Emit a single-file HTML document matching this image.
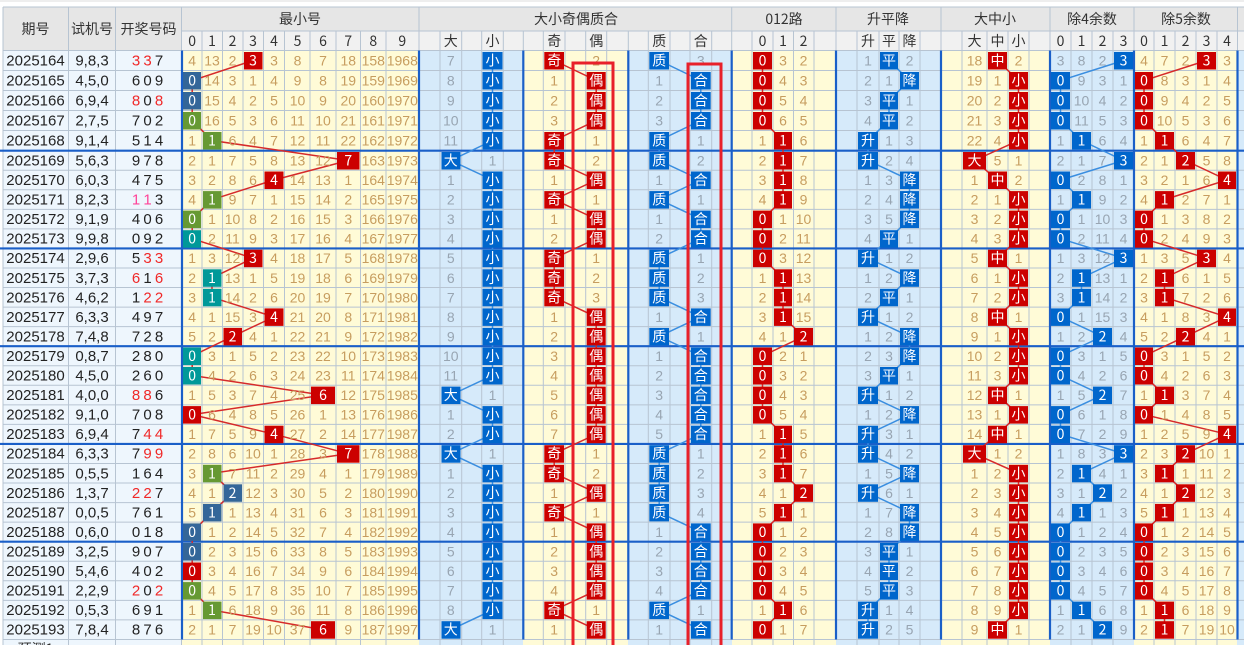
<!DOCTYPE html>
<html><head><meta charset="utf-8"><style>
body{margin:0;background:#fff;width:1244px;height:645px;overflow:hidden}
svg{display:block}
text{font-family:"Liberation Sans","Noto Sans CJK SC",sans-serif;font-size:14px;text-anchor:middle}
.l{fill:#222;font-size:15px}.r{fill:#f02828}.p{fill:#ff4499}
.y{fill:#c79d5f}.g{fill:#98a5b2}.w{fill:#fff;font-family:"Noto Sans CJK SC","Liberation Sans",sans-serif}
.h{fill:#333;font-family:"Noto Sans CJK SC","Liberation Sans",sans-serif;font-size:14px}
.R{fill:#cc0000}.B{fill:#0066cc}.D{fill:#336699}.G{fill:#669933}.T{fill:#009999}
.gl line{stroke:#b7c4d2;stroke-width:1}
.bl line{stroke:#1a5fc8;stroke-width:2.2}
.lr{fill:none;stroke:#d62a2a;stroke-width:1.5}.lb{fill:none;stroke:#3a8ee0;stroke-width:1.5}
</style></head><body>
<svg width="1244" height="645" viewBox="0 0 1244 645" xmlns="http://www.w3.org/2000/svg">
<rect x="0" y="0" width="1244" height="645" fill="#fff"/>
<line x1="0" y1="1" x2="1244" y2="1" stroke="#ddd"/>
<!-- header -->
<rect x="3" y="7" width="1241" height="44" fill="#e6e6e6"/>
<rect x="182" y="31" width="1062" height="20" fill="#f1f1f1"/>
<!-- backgrounds -->
<rect x="3" y="50.5" width="179" height="595" fill="#eef6fd"/>
<rect x="182" y="50.5" width="237" height="595" fill="#fffbd7"/>
<rect x="419" y="50.5" width="104" height="595" fill="#d6eafa"/>
<rect x="523" y="50.5" width="105" height="595" fill="#fffbd7"/>
<rect x="628" y="50.5" width="104" height="595" fill="#d6eafa"/>
<rect x="732" y="50.5" width="104" height="595" fill="#fffbd7"/>
<rect x="836" y="50.5" width="105" height="595" fill="#d6eafa"/>
<rect x="941" y="50.5" width="109" height="595" fill="#fffbd7"/>
<rect x="1050" y="50.5" width="84" height="595" fill="#d6eafa"/>
<rect x="1134" y="50.5" width="103" height="595" fill="#fffbd7"/>
<rect x="1237" y="50.5" width="7" height="595" fill="#d6eafa"/>
<g class="gl">
<line x1="3" y1="7" x2="1244" y2="7"/><line x1="182" y1="31" x2="1244" y2="31"/>
<line x1="3" y1="7" x2="3" y2="645"/><line x1="68.5" y1="7" x2="68.5" y2="645"/><line x1="115.5" y1="7" x2="115.5" y2="645"/><line x1="181.5" y1="7" x2="181.5" y2="645"/>
<line x1="419" y1="7" x2="419" y2="51"/><line x1="731.7" y1="7" x2="731.7" y2="51"/><line x1="836" y1="7" x2="836" y2="51"/><line x1="941" y1="7" x2="941" y2="51"/><line x1="1050" y1="7" x2="1050" y2="51"/><line x1="1134" y1="7" x2="1134" y2="51"/><line x1="1237.5" y1="7" x2="1237.5" y2="51"/>
<line x1="202" y1="31" x2="202" y2="645"/><line x1="222.5" y1="31" x2="222.5" y2="645"/><line x1="243" y1="31" x2="243" y2="645"/><line x1="263.5" y1="31" x2="263.5" y2="645"/><line x1="284.5" y1="31" x2="284.5" y2="645"/><line x1="310" y1="31" x2="310" y2="645"/><line x1="336" y1="31" x2="336" y2="645"/><line x1="360.5" y1="31" x2="360.5" y2="645"/><line x1="386" y1="31" x2="386" y2="645"/>
<line x1="440" y1="31" x2="440" y2="645"/><line x1="461.7" y1="31" x2="461.7" y2="645"/><line x1="481.7" y1="31" x2="481.7" y2="645"/><line x1="503.3" y1="31" x2="503.3" y2="645"/><line x1="523.3" y1="31" x2="523.3" y2="51"/><line x1="543.3" y1="31" x2="543.3" y2="645"/><line x1="565" y1="31" x2="565" y2="645"/><line x1="585.7" y1="31" x2="585.7" y2="645"/><line x1="606.7" y1="31" x2="606.7" y2="645"/><line x1="628.3" y1="31" x2="628.3" y2="51"/><line x1="648.3" y1="31" x2="648.3" y2="645"/><line x1="670" y1="31" x2="670" y2="645"/><line x1="690" y1="31" x2="690" y2="645"/><line x1="711.7" y1="31" x2="711.7" y2="645"/>
<line x1="752" y1="31" x2="752" y2="645"/><line x1="773" y1="31" x2="773" y2="645"/><line x1="793.5" y1="31" x2="793.5" y2="645"/><line x1="814" y1="31" x2="814" y2="645"/>
<line x1="857" y1="31" x2="857" y2="645"/><line x1="879" y1="31" x2="879" y2="645"/><line x1="899" y1="31" x2="899" y2="645"/><line x1="920" y1="31" x2="920" y2="645"/>
<line x1="962" y1="31" x2="962" y2="645"/><line x1="987" y1="31" x2="987" y2="645"/><line x1="1008" y1="31" x2="1008" y2="645"/><line x1="1029" y1="31" x2="1029" y2="645"/>
<line x1="1071" y1="31" x2="1071" y2="645"/><line x1="1092" y1="31" x2="1092" y2="645"/><line x1="1113" y1="31" x2="1113" y2="645"/>
<line x1="1154" y1="31" x2="1154" y2="645"/><line x1="1175" y1="31" x2="1175" y2="645"/><line x1="1196" y1="31" x2="1196" y2="645"/><line x1="1217" y1="31" x2="1217" y2="645"/>
<line x1="3" y1="50.5" x2="1244" y2="50.5"/><line x1="3" y1="70.5" x2="1244" y2="70.5"/><line x1="3" y1="90.5" x2="1244" y2="90.5"/><line x1="3" y1="110.5" x2="1244" y2="110.5"/><line x1="3" y1="130.5" x2="1244" y2="130.5"/>
<line x1="3" y1="170.25" x2="1244" y2="170.25"/><line x1="3" y1="189.8" x2="1244" y2="189.8"/><line x1="3" y1="209.35" x2="1244" y2="209.35"/><line x1="3" y1="228.9" x2="1244" y2="228.9"/>
<line x1="3" y1="268" x2="1244" y2="268"/><line x1="3" y1="287.55" x2="1244" y2="287.55"/><line x1="3" y1="307.1" x2="1244" y2="307.1"/><line x1="3" y1="326.65" x2="1244" y2="326.65"/>
<line x1="3" y1="365.75" x2="1244" y2="365.75"/><line x1="3" y1="385.3" x2="1244" y2="385.3"/><line x1="3" y1="404.85" x2="1244" y2="404.85"/><line x1="3" y1="424.4" x2="1244" y2="424.4"/>
<line x1="3" y1="463.5" x2="1244" y2="463.5"/><line x1="3" y1="483.05" x2="1244" y2="483.05"/><line x1="3" y1="502.6" x2="1244" y2="502.6"/><line x1="3" y1="522.15" x2="1244" y2="522.15"/>
<line x1="3" y1="561.25" x2="1244" y2="561.25"/><line x1="3" y1="580.8" x2="1244" y2="580.8"/><line x1="3" y1="600.35" x2="1244" y2="600.35"/><line x1="3" y1="619.9" x2="1244" y2="619.9"/><line x1="3" y1="639.45" x2="1244" y2="639.45"/>
</g>
<g class="bl">
<line x1="182" y1="50.5" x2="182" y2="639.5"/><line x1="419" y1="50.5" x2="419" y2="639.5"/><line x1="523.3" y1="50.5" x2="523.3" y2="639.5"/><line x1="628.3" y1="50.5" x2="628.3" y2="639.5"/><line x1="731.7" y1="50.5" x2="731.7" y2="639.5"/><line x1="836" y1="50.5" x2="836" y2="639.5"/><line x1="941" y1="50.5" x2="941" y2="639.5"/><line x1="1050" y1="50.5" x2="1050" y2="639.5"/><line x1="1134" y1="50.5" x2="1134" y2="639.5"/><line x1="1237.5" y1="50.5" x2="1237.5" y2="639.5"/>
<line x1="0" y1="150.7" x2="1244" y2="150.7"/><line x1="0" y1="248.45" x2="1244" y2="248.45"/><line x1="0" y1="346.2" x2="1244" y2="346.2"/><line x1="0" y1="443.95" x2="1244" y2="443.95"/><line x1="0" y1="541.7" x2="1244" y2="541.7"/>
</g>
<!-- header text -->
<text class="h" x="35.5" y="34">期号</text><text class="h" x="92" y="34">试机号</text><text class="h" x="148.5" y="34">开奖号码</text>
<text class="h" y="24"><tspan x="300">最小号</tspan><tspan x="576">大小奇偶质合</tspan><tspan x="784">012路</tspan><tspan x="888">升平降</tspan><tspan x="995">大中小</tspan><tspan x="1092">除4余数</tspan><tspan x="1186">除5余数</tspan></text>
<text class="h" y="46"><tspan x="192.2">0</tspan><tspan x="212">1</tspan><tspan x="232.5">2</tspan><tspan x="253">3</tspan><tspan x="274">4</tspan><tspan x="297.5">5</tspan><tspan x="323">6</tspan><tspan x="348.3">7</tspan><tspan x="373.3">8</tspan><tspan x="402.3">9</tspan><tspan x="450.8">大</tspan><tspan x="492.5">小</tspan><tspan x="554.2">奇</tspan><tspan x="596.2">偶</tspan><tspan x="659.2">质</tspan><tspan x="700.8">合</tspan><tspan x="762.5">0</tspan><tspan x="783">1</tspan><tspan x="803.5">2</tspan><tspan x="868">升</tspan><tspan x="889">平</tspan><tspan x="909.5">降</tspan><tspan x="974.5">大</tspan><tspan x="997.5">中</tspan><tspan x="1018.5">小</tspan><tspan x="1060.5">0</tspan><tspan x="1081.5">1</tspan><tspan x="1102.5">2</tspan><tspan x="1123.5">3</tspan><tspan x="1144">0</tspan><tspan x="1164.5">1</tspan><tspan x="1185.5">2</tspan><tspan x="1206.5">3</tspan><tspan x="1227">4</tspan></text>
<!-- polylines -->
<polyline class="lr" points="253,60.5 192.2,80.5 192.2,100.5 192.2,120.5 212,140.5 348.3,160.5 274,180 212,199.6 192.2,219.1 192.2,238.7 253,258.2 212,277.8 212,297.3 274,316.9 232.5,336.4 192.2,356 192.2,375.5 323,395.1 192.2,414.6 274,434.2 348.3,453.7 212,473.3 232.5,492.8 212,512.4 192.2,531.9 192.2,551.5 192.2,571 192.2,590.6 212,610.1 323,629.7"/>
<polyline class="lb" points="492.5,60.5 492.5,80.5 492.5,100.5 492.5,120.5 492.5,140.5 450.8,160.5 492.5,180 492.5,199.6 492.5,219.1 492.5,238.7 492.5,258.2 492.5,277.8 492.5,297.3 492.5,316.9 492.5,336.4 492.5,356 492.5,375.5 450.8,395.1 492.5,414.6 492.5,434.2 450.8,453.7 492.5,473.3 492.5,492.8 492.5,512.4 492.5,531.9 492.5,551.5 492.5,571 492.5,590.6 492.5,610.1 450.8,629.7"/>
<polyline class="lr" points="554.2,60.5 596.2,80.5 596.2,100.5 596.2,120.5 554.2,140.5 554.2,160.5 596.2,180 554.2,199.6 596.2,219.1 596.2,238.7 554.2,258.2 554.2,277.8 554.2,297.3 596.2,316.9 596.2,336.4 596.2,356 596.2,375.5 596.2,395.1 596.2,414.6 596.2,434.2 554.2,453.7 554.2,473.3 596.2,492.8 554.2,512.4 596.2,531.9 596.2,551.5 596.2,571 596.2,590.6 554.2,610.1 596.2,629.7"/>
<polyline class="lb" points="659.2,60.5 700.8,80.5 700.8,100.5 700.8,120.5 659.2,140.5 659.2,160.5 700.8,180 659.2,199.6 700.8,219.1 700.8,238.7 659.2,258.2 659.2,277.8 659.2,297.3 700.8,316.9 659.2,336.4 700.8,356 700.8,375.5 700.8,395.1 700.8,414.6 700.8,434.2 659.2,453.7 659.2,473.3 659.2,492.8 659.2,512.4 700.8,531.9 700.8,551.5 700.8,571 700.8,590.6 659.2,610.1 700.8,629.7"/>
<polyline class="lr" points="762.5,60.5 762.5,80.5 762.5,100.5 762.5,120.5 783,140.5 783,160.5 783,180 783,199.6 762.5,219.1 762.5,238.7 762.5,258.2 783,277.8 783,297.3 783,316.9 803.5,336.4 762.5,356 762.5,375.5 762.5,395.1 762.5,414.6 783,434.2 783,453.7 783,473.3 803.5,492.8 783,512.4 762.5,531.9 762.5,551.5 762.5,571 762.5,590.6 783,610.1 762.5,629.7"/>
<polyline class="lb" points="889,60.5 909.5,80.5 889,100.5 889,120.5 868,140.5 868,160.5 909.5,180 909.5,199.6 909.5,219.1 889,238.7 868,258.2 909.5,277.8 889,297.3 868,316.9 909.5,336.4 909.5,356 889,375.5 868,395.1 909.5,414.6 868,434.2 868,453.7 909.5,473.3 868,492.8 909.5,512.4 909.5,531.9 889,551.5 889,571 889,590.6 868,610.1 868,629.7"/>
<polyline class="lr" points="997.5,60.5 1018.5,80.5 1018.5,100.5 1018.5,120.5 1018.5,140.5 974.5,160.5 997.5,180 1018.5,199.6 1018.5,219.1 1018.5,238.7 997.5,258.2 1018.5,277.8 1018.5,297.3 997.5,316.9 1018.5,336.4 1018.5,356 1018.5,375.5 997.5,395.1 1018.5,414.6 997.5,434.2 974.5,453.7 1018.5,473.3 1018.5,492.8 1018.5,512.4 1018.5,531.9 1018.5,551.5 1018.5,571 1018.5,590.6 1018.5,610.1 997.5,629.7"/>
<polyline class="lb" points="1123.5,60.5 1060.5,80.5 1060.5,100.5 1060.5,120.5 1081.5,140.5 1123.5,160.5 1060.5,180 1081.5,199.6 1060.5,219.1 1060.5,238.7 1123.5,258.2 1081.5,277.8 1081.5,297.3 1060.5,316.9 1102.5,336.4 1060.5,356 1060.5,375.5 1102.5,395.1 1060.5,414.6 1060.5,434.2 1123.5,453.7 1081.5,473.3 1102.5,492.8 1081.5,512.4 1060.5,531.9 1060.5,551.5 1060.5,571 1060.5,590.6 1081.5,610.1 1102.5,629.7"/>
<polyline class="lr" points="1206.5,60.5 1144,80.5 1144,100.5 1144,120.5 1164.5,140.5 1185.5,160.5 1227,180 1164.5,199.6 1144,219.1 1144,238.7 1206.5,258.2 1164.5,277.8 1164.5,297.3 1227,316.9 1185.5,336.4 1144,356 1144,375.5 1164.5,395.1 1144,414.6 1227,434.2 1185.5,453.7 1164.5,473.3 1185.5,492.8 1164.5,512.4 1144,531.9 1144,551.5 1144,571 1144,590.6 1164.5,610.1 1164.5,629.7"/>

<!-- rows -->
<g transform="translate(0,60.5)">
<text class="l" y="5"><tspan x="35.5">2025164</tspan><tspan x="92">9,8,3</tspan><tspan x="136" class="r">3</tspan><tspan x="147.5" class="r">3</tspan><tspan x="159">7</tspan></text>
<text class="y" y="5"><tspan x="192.2">4</tspan><tspan x="212">13</tspan><tspan x="232.5">2</tspan><tspan x="274">3</tspan><tspan x="297.5">8</tspan><tspan x="323">7</tspan><tspan x="348.3">18</tspan><tspan x="373.3">158</tspan><tspan x="402.3">1968</tspan><tspan x="596.2">2</tspan><tspan x="783">3</tspan><tspan x="803.5">2</tspan><tspan x="974.5">18</tspan><tspan x="1018.5">2</tspan><tspan x="1144">4</tspan><tspan x="1164.5">7</tspan><tspan x="1185.5">2</tspan><tspan x="1227">3</tspan></text>
<text class="g" y="5"><tspan x="450.8">7</tspan><tspan x="700.8">3</tspan><tspan x="868">1</tspan><tspan x="909.5">2</tspan><tspan x="1060.5">3</tspan><tspan x="1081.5">8</tspan><tspan x="1102.5">2</tspan></text>
<rect class="R" x="244" y="-8.5" width="18.5" height="17.5"/><rect class="B" x="482.5" y="-8.5" width="20" height="17.5"/><rect class="R" x="544.3" y="-8.5" width="19.7" height="17.5"/><rect class="B" x="649.3" y="-8.5" width="19.7" height="17.5"/><rect class="R" x="753" y="-8.5" width="19" height="17.5"/><rect class="B" x="880" y="-8.5" width="18" height="17.5"/><rect class="R" x="988" y="-8.5" width="19" height="17.5"/><rect class="B" x="1114" y="-8.5" width="19" height="17.5"/><rect class="R" x="1197" y="-8.5" width="19" height="17.5"/>
<text class="w" y="5"><tspan x="253">3</tspan><tspan x="492.5">小</tspan><tspan x="554.2">奇</tspan><tspan x="659.2">质</tspan><tspan x="762.5">0</tspan><tspan x="889">平</tspan><tspan x="997.5">中</tspan><tspan x="1123.5">3</tspan><tspan x="1206.5">3</tspan></text>
</g>
<g transform="translate(0,80.5)">
<text class="l" y="5"><tspan x="35.5">2025165</tspan><tspan x="92">4,5,0</tspan><tspan x="136">6</tspan><tspan x="147.5">0</tspan><tspan x="159">9</tspan></text>
<text class="y" y="5"><tspan x="212">14</tspan><tspan x="232.5">3</tspan><tspan x="253">1</tspan><tspan x="274">4</tspan><tspan x="297.5">9</tspan><tspan x="323">8</tspan><tspan x="348.3">19</tspan><tspan x="373.3">159</tspan><tspan x="402.3">1969</tspan><tspan x="554.2">1</tspan><tspan x="783">4</tspan><tspan x="803.5">3</tspan><tspan x="974.5">19</tspan><tspan x="997.5">1</tspan><tspan x="1164.5">8</tspan><tspan x="1185.5">3</tspan><tspan x="1206.5">1</tspan><tspan x="1227">4</tspan></text>
<text class="g" y="5"><tspan x="450.8">8</tspan><tspan x="659.2">1</tspan><tspan x="868">2</tspan><tspan x="889">1</tspan><tspan x="1081.5">9</tspan><tspan x="1102.5">3</tspan><tspan x="1123.5">1</tspan></text>
<rect class="D" x="183" y="-8.5" width="18" height="17.5"/><rect class="B" x="482.5" y="-8.5" width="20" height="17.5"/><rect class="R" x="586.7" y="-8.5" width="19" height="17.5"/><rect class="B" x="691" y="-8.5" width="19.7" height="17.5"/><rect class="R" x="753" y="-8.5" width="19" height="17.5"/><rect class="B" x="900" y="-8.5" width="19" height="17.5"/><rect class="R" x="1009" y="-8.5" width="19" height="17.5"/><rect class="B" x="1051" y="-8.5" width="19" height="17.5"/><rect class="R" x="1135" y="-8.5" width="18" height="17.5"/>
<text class="w" y="5"><tspan x="192.2">0</tspan><tspan x="492.5">小</tspan><tspan x="596.2">偶</tspan><tspan x="700.8">合</tspan><tspan x="762.5">0</tspan><tspan x="909.5">降</tspan><tspan x="1018.5">小</tspan><tspan x="1060.5">0</tspan><tspan x="1144">0</tspan></text>
</g>
<g transform="translate(0,100.5)">
<text class="l" y="5"><tspan x="35.5">2025166</tspan><tspan x="92">6,9,4</tspan><tspan x="136" class="r">8</tspan><tspan x="147.5">0</tspan><tspan x="159" class="r">8</tspan></text>
<text class="y" y="5"><tspan x="212">15</tspan><tspan x="232.5">4</tspan><tspan x="253">2</tspan><tspan x="274">5</tspan><tspan x="297.5">10</tspan><tspan x="323">9</tspan><tspan x="348.3">20</tspan><tspan x="373.3">160</tspan><tspan x="402.3">1970</tspan><tspan x="554.2">2</tspan><tspan x="783">5</tspan><tspan x="803.5">4</tspan><tspan x="974.5">20</tspan><tspan x="997.5">2</tspan><tspan x="1164.5">9</tspan><tspan x="1185.5">4</tspan><tspan x="1206.5">2</tspan><tspan x="1227">5</tspan></text>
<text class="g" y="5"><tspan x="450.8">9</tspan><tspan x="659.2">2</tspan><tspan x="868">3</tspan><tspan x="909.5">1</tspan><tspan x="1081.5">10</tspan><tspan x="1102.5">4</tspan><tspan x="1123.5">2</tspan></text>
<rect class="D" x="183" y="-8.5" width="18" height="17.5"/><rect class="B" x="482.5" y="-8.5" width="20" height="17.5"/><rect class="R" x="586.7" y="-8.5" width="19" height="17.5"/><rect class="B" x="691" y="-8.5" width="19.7" height="17.5"/><rect class="R" x="753" y="-8.5" width="19" height="17.5"/><rect class="B" x="880" y="-8.5" width="18" height="17.5"/><rect class="R" x="1009" y="-8.5" width="19" height="17.5"/><rect class="B" x="1051" y="-8.5" width="19" height="17.5"/><rect class="R" x="1135" y="-8.5" width="18" height="17.5"/>
<text class="w" y="5"><tspan x="192.2">0</tspan><tspan x="492.5">小</tspan><tspan x="596.2">偶</tspan><tspan x="700.8">合</tspan><tspan x="762.5">0</tspan><tspan x="889">平</tspan><tspan x="1018.5">小</tspan><tspan x="1060.5">0</tspan><tspan x="1144">0</tspan></text>
</g>
<g transform="translate(0,120.5)">
<text class="l" y="5"><tspan x="35.5">2025167</tspan><tspan x="92">2,7,5</tspan><tspan x="136">7</tspan><tspan x="147.5">0</tspan><tspan x="159">2</tspan></text>
<text class="y" y="5"><tspan x="212">16</tspan><tspan x="232.5">5</tspan><tspan x="253">3</tspan><tspan x="274">6</tspan><tspan x="297.5">11</tspan><tspan x="323">10</tspan><tspan x="348.3">21</tspan><tspan x="373.3">161</tspan><tspan x="402.3">1971</tspan><tspan x="554.2">3</tspan><tspan x="783">6</tspan><tspan x="803.5">5</tspan><tspan x="974.5">21</tspan><tspan x="997.5">3</tspan><tspan x="1164.5">10</tspan><tspan x="1185.5">5</tspan><tspan x="1206.5">3</tspan><tspan x="1227">6</tspan></text>
<text class="g" y="5"><tspan x="450.8">10</tspan><tspan x="659.2">3</tspan><tspan x="868">4</tspan><tspan x="909.5">2</tspan><tspan x="1081.5">11</tspan><tspan x="1102.5">5</tspan><tspan x="1123.5">3</tspan></text>
<rect class="G" x="183" y="-8.5" width="18" height="17.5"/><rect class="B" x="482.5" y="-8.5" width="20" height="17.5"/><rect class="R" x="586.7" y="-8.5" width="19" height="17.5"/><rect class="B" x="691" y="-8.5" width="19.7" height="17.5"/><rect class="R" x="753" y="-8.5" width="19" height="17.5"/><rect class="B" x="880" y="-8.5" width="18" height="17.5"/><rect class="R" x="1009" y="-8.5" width="19" height="17.5"/><rect class="B" x="1051" y="-8.5" width="19" height="17.5"/><rect class="R" x="1135" y="-8.5" width="18" height="17.5"/>
<text class="w" y="5"><tspan x="192.2">0</tspan><tspan x="492.5">小</tspan><tspan x="596.2">偶</tspan><tspan x="700.8">合</tspan><tspan x="762.5">0</tspan><tspan x="889">平</tspan><tspan x="1018.5">小</tspan><tspan x="1060.5">0</tspan><tspan x="1144">0</tspan></text>
</g>
<g transform="translate(0,140.5)">
<text class="l" y="5"><tspan x="35.5">2025168</tspan><tspan x="92">9,1,4</tspan><tspan x="136">5</tspan><tspan x="147.5">1</tspan><tspan x="159">4</tspan></text>
<text class="y" y="5"><tspan x="192.2">1</tspan><tspan x="232.5">6</tspan><tspan x="253">4</tspan><tspan x="274">7</tspan><tspan x="297.5">12</tspan><tspan x="323">11</tspan><tspan x="348.3">22</tspan><tspan x="373.3">162</tspan><tspan x="402.3">1972</tspan><tspan x="596.2">1</tspan><tspan x="762.5">1</tspan><tspan x="803.5">6</tspan><tspan x="974.5">22</tspan><tspan x="997.5">4</tspan><tspan x="1144">1</tspan><tspan x="1185.5">6</tspan><tspan x="1206.5">4</tspan><tspan x="1227">7</tspan></text>
<text class="g" y="5"><tspan x="450.8">11</tspan><tspan x="700.8">1</tspan><tspan x="889">1</tspan><tspan x="909.5">3</tspan><tspan x="1060.5">1</tspan><tspan x="1102.5">6</tspan><tspan x="1123.5">4</tspan></text>
<rect class="G" x="203" y="-8.5" width="18.5" height="17.5"/><rect class="B" x="482.5" y="-8.5" width="20" height="17.5"/><rect class="R" x="544.3" y="-8.5" width="19.7" height="17.5"/><rect class="B" x="649.3" y="-8.5" width="19.7" height="17.5"/><rect class="R" x="774" y="-8.5" width="18" height="17.5"/><rect class="B" x="858" y="-8.5" width="20" height="17.5"/><rect class="R" x="1009" y="-8.5" width="19" height="17.5"/><rect class="B" x="1072" y="-8.5" width="19" height="17.5"/><rect class="R" x="1155" y="-8.5" width="19" height="17.5"/>
<text class="w" y="5"><tspan x="212">1</tspan><tspan x="492.5">小</tspan><tspan x="554.2">奇</tspan><tspan x="659.2">质</tspan><tspan x="783">1</tspan><tspan x="868">升</tspan><tspan x="1018.5">小</tspan><tspan x="1081.5">1</tspan><tspan x="1164.5">1</tspan></text>
</g>
<g transform="translate(0,160.5)">
<text class="l" y="5"><tspan x="35.5">2025169</tspan><tspan x="92">5,6,3</tspan><tspan x="136">9</tspan><tspan x="147.5">7</tspan><tspan x="159">8</tspan></text>
<text class="y" y="5"><tspan x="192.2">2</tspan><tspan x="212">1</tspan><tspan x="232.5">7</tspan><tspan x="253">5</tspan><tspan x="274">8</tspan><tspan x="297.5">13</tspan><tspan x="323">12</tspan><tspan x="373.3">163</tspan><tspan x="402.3">1973</tspan><tspan x="596.2">2</tspan><tspan x="762.5">2</tspan><tspan x="803.5">7</tspan><tspan x="997.5">5</tspan><tspan x="1018.5">1</tspan><tspan x="1144">2</tspan><tspan x="1164.5">1</tspan><tspan x="1206.5">5</tspan><tspan x="1227">8</tspan></text>
<text class="g" y="5"><tspan x="492.5">1</tspan><tspan x="700.8">2</tspan><tspan x="889">2</tspan><tspan x="909.5">4</tspan><tspan x="1060.5">2</tspan><tspan x="1081.5">1</tspan><tspan x="1102.5">7</tspan></text>
<rect class="R" x="337" y="-8.5" width="22.5" height="17.5"/><rect class="B" x="441.5" y="-8.5" width="19" height="17.5"/><rect class="R" x="544.3" y="-8.5" width="19.7" height="17.5"/><rect class="B" x="649.3" y="-8.5" width="19.7" height="17.5"/><rect class="R" x="774" y="-8.5" width="18" height="17.5"/><rect class="B" x="858" y="-8.5" width="20" height="17.5"/><rect class="R" x="963" y="-8.5" width="23" height="17.5"/><rect class="B" x="1114" y="-8.5" width="19" height="17.5"/><rect class="R" x="1176" y="-8.5" width="19" height="17.5"/>
<text class="w" y="5"><tspan x="348.3">7</tspan><tspan x="450.8">大</tspan><tspan x="554.2">奇</tspan><tspan x="659.2">质</tspan><tspan x="783">1</tspan><tspan x="868">升</tspan><tspan x="974.5">大</tspan><tspan x="1123.5">3</tspan><tspan x="1185.5">2</tspan></text>
</g>
<g transform="translate(0,180)">
<text class="l" y="5"><tspan x="35.5">2025170</tspan><tspan x="92">6,0,3</tspan><tspan x="136">4</tspan><tspan x="147.5">7</tspan><tspan x="159">5</tspan></text>
<text class="y" y="5"><tspan x="192.2">3</tspan><tspan x="212">2</tspan><tspan x="232.5">8</tspan><tspan x="253">6</tspan><tspan x="297.5">14</tspan><tspan x="323">13</tspan><tspan x="348.3">1</tspan><tspan x="373.3">164</tspan><tspan x="402.3">1974</tspan><tspan x="554.2">1</tspan><tspan x="762.5">3</tspan><tspan x="803.5">8</tspan><tspan x="974.5">1</tspan><tspan x="1018.5">2</tspan><tspan x="1144">3</tspan><tspan x="1164.5">2</tspan><tspan x="1185.5">1</tspan><tspan x="1206.5">6</tspan></text>
<text class="g" y="5"><tspan x="450.8">1</tspan><tspan x="659.2">1</tspan><tspan x="868">1</tspan><tspan x="889">3</tspan><tspan x="1081.5">2</tspan><tspan x="1102.5">8</tspan><tspan x="1123.5">1</tspan></text>
<rect class="R" x="264.5" y="-8.5" width="19" height="17.5"/><rect class="B" x="482.5" y="-8.5" width="20" height="17.5"/><rect class="R" x="586.7" y="-8.5" width="19" height="17.5"/><rect class="B" x="691" y="-8.5" width="19.7" height="17.5"/><rect class="R" x="774" y="-8.5" width="18" height="17.5"/><rect class="B" x="900" y="-8.5" width="19" height="17.5"/><rect class="R" x="988" y="-8.5" width="19" height="17.5"/><rect class="B" x="1051" y="-8.5" width="19" height="17.5"/><rect class="R" x="1218" y="-8.5" width="18" height="17.5"/>
<text class="w" y="5"><tspan x="274">4</tspan><tspan x="492.5">小</tspan><tspan x="596.2">偶</tspan><tspan x="700.8">合</tspan><tspan x="783">1</tspan><tspan x="909.5">降</tspan><tspan x="997.5">中</tspan><tspan x="1060.5">0</tspan><tspan x="1227">4</tspan></text>
</g>
<g transform="translate(0,199.6)">
<text class="l" y="5"><tspan x="35.5">2025171</tspan><tspan x="92">8,2,3</tspan><tspan x="136" class="p">1</tspan><tspan x="147.5" class="p">1</tspan><tspan x="159">3</tspan></text>
<text class="y" y="5"><tspan x="192.2">4</tspan><tspan x="232.5">9</tspan><tspan x="253">7</tspan><tspan x="274">1</tspan><tspan x="297.5">15</tspan><tspan x="323">14</tspan><tspan x="348.3">2</tspan><tspan x="373.3">165</tspan><tspan x="402.3">1975</tspan><tspan x="596.2">1</tspan><tspan x="762.5">4</tspan><tspan x="803.5">9</tspan><tspan x="974.5">2</tspan><tspan x="997.5">1</tspan><tspan x="1144">4</tspan><tspan x="1185.5">2</tspan><tspan x="1206.5">7</tspan><tspan x="1227">1</tspan></text>
<text class="g" y="5"><tspan x="450.8">2</tspan><tspan x="700.8">1</tspan><tspan x="868">2</tspan><tspan x="889">4</tspan><tspan x="1060.5">1</tspan><tspan x="1102.5">9</tspan><tspan x="1123.5">2</tspan></text>
<rect class="G" x="203" y="-8.5" width="18.5" height="17.5"/><rect class="B" x="482.5" y="-8.5" width="20" height="17.5"/><rect class="R" x="544.3" y="-8.5" width="19.7" height="17.5"/><rect class="B" x="649.3" y="-8.5" width="19.7" height="17.5"/><rect class="R" x="774" y="-8.5" width="18" height="17.5"/><rect class="B" x="900" y="-8.5" width="19" height="17.5"/><rect class="R" x="1009" y="-8.5" width="19" height="17.5"/><rect class="B" x="1072" y="-8.5" width="19" height="17.5"/><rect class="R" x="1155" y="-8.5" width="19" height="17.5"/>
<text class="w" y="5"><tspan x="212">1</tspan><tspan x="492.5">小</tspan><tspan x="554.2">奇</tspan><tspan x="659.2">质</tspan><tspan x="783">1</tspan><tspan x="909.5">降</tspan><tspan x="1018.5">小</tspan><tspan x="1081.5">1</tspan><tspan x="1164.5">1</tspan></text>
</g>
<g transform="translate(0,219.1)">
<text class="l" y="5"><tspan x="35.5">2025172</tspan><tspan x="92">9,1,9</tspan><tspan x="136">4</tspan><tspan x="147.5">0</tspan><tspan x="159">6</tspan></text>
<text class="y" y="5"><tspan x="212">1</tspan><tspan x="232.5">10</tspan><tspan x="253">8</tspan><tspan x="274">2</tspan><tspan x="297.5">16</tspan><tspan x="323">15</tspan><tspan x="348.3">3</tspan><tspan x="373.3">166</tspan><tspan x="402.3">1976</tspan><tspan x="554.2">1</tspan><tspan x="783">1</tspan><tspan x="803.5">10</tspan><tspan x="974.5">3</tspan><tspan x="997.5">2</tspan><tspan x="1164.5">1</tspan><tspan x="1185.5">3</tspan><tspan x="1206.5">8</tspan><tspan x="1227">2</tspan></text>
<text class="g" y="5"><tspan x="450.8">3</tspan><tspan x="659.2">1</tspan><tspan x="868">3</tspan><tspan x="889">5</tspan><tspan x="1081.5">1</tspan><tspan x="1102.5">10</tspan><tspan x="1123.5">3</tspan></text>
<rect class="G" x="183" y="-8.5" width="18" height="17.5"/><rect class="B" x="482.5" y="-8.5" width="20" height="17.5"/><rect class="R" x="586.7" y="-8.5" width="19" height="17.5"/><rect class="B" x="691" y="-8.5" width="19.7" height="17.5"/><rect class="R" x="753" y="-8.5" width="19" height="17.5"/><rect class="B" x="900" y="-8.5" width="19" height="17.5"/><rect class="R" x="1009" y="-8.5" width="19" height="17.5"/><rect class="B" x="1051" y="-8.5" width="19" height="17.5"/><rect class="R" x="1135" y="-8.5" width="18" height="17.5"/>
<text class="w" y="5"><tspan x="192.2">0</tspan><tspan x="492.5">小</tspan><tspan x="596.2">偶</tspan><tspan x="700.8">合</tspan><tspan x="762.5">0</tspan><tspan x="909.5">降</tspan><tspan x="1018.5">小</tspan><tspan x="1060.5">0</tspan><tspan x="1144">0</tspan></text>
</g>
<g transform="translate(0,238.7)">
<text class="l" y="5"><tspan x="35.5">2025173</tspan><tspan x="92">9,9,8</tspan><tspan x="136">0</tspan><tspan x="147.5">9</tspan><tspan x="159">2</tspan></text>
<text class="y" y="5"><tspan x="212">2</tspan><tspan x="232.5">11</tspan><tspan x="253">9</tspan><tspan x="274">3</tspan><tspan x="297.5">17</tspan><tspan x="323">16</tspan><tspan x="348.3">4</tspan><tspan x="373.3">167</tspan><tspan x="402.3">1977</tspan><tspan x="554.2">2</tspan><tspan x="783">2</tspan><tspan x="803.5">11</tspan><tspan x="974.5">4</tspan><tspan x="997.5">3</tspan><tspan x="1164.5">2</tspan><tspan x="1185.5">4</tspan><tspan x="1206.5">9</tspan><tspan x="1227">3</tspan></text>
<text class="g" y="5"><tspan x="450.8">4</tspan><tspan x="659.2">2</tspan><tspan x="868">4</tspan><tspan x="909.5">1</tspan><tspan x="1081.5">2</tspan><tspan x="1102.5">11</tspan><tspan x="1123.5">4</tspan></text>
<rect class="T" x="183" y="-8.5" width="18" height="17.5"/><rect class="B" x="482.5" y="-8.5" width="20" height="17.5"/><rect class="R" x="586.7" y="-8.5" width="19" height="17.5"/><rect class="B" x="691" y="-8.5" width="19.7" height="17.5"/><rect class="R" x="753" y="-8.5" width="19" height="17.5"/><rect class="B" x="880" y="-8.5" width="18" height="17.5"/><rect class="R" x="1009" y="-8.5" width="19" height="17.5"/><rect class="B" x="1051" y="-8.5" width="19" height="17.5"/><rect class="R" x="1135" y="-8.5" width="18" height="17.5"/>
<text class="w" y="5"><tspan x="192.2">0</tspan><tspan x="492.5">小</tspan><tspan x="596.2">偶</tspan><tspan x="700.8">合</tspan><tspan x="762.5">0</tspan><tspan x="889">平</tspan><tspan x="1018.5">小</tspan><tspan x="1060.5">0</tspan><tspan x="1144">0</tspan></text>
</g>
<g transform="translate(0,258.2)">
<text class="l" y="5"><tspan x="35.5">2025174</tspan><tspan x="92">2,9,6</tspan><tspan x="136">5</tspan><tspan x="147.5" class="r">3</tspan><tspan x="159" class="r">3</tspan></text>
<text class="y" y="5"><tspan x="192.2">1</tspan><tspan x="212">3</tspan><tspan x="232.5">12</tspan><tspan x="274">4</tspan><tspan x="297.5">18</tspan><tspan x="323">17</tspan><tspan x="348.3">5</tspan><tspan x="373.3">168</tspan><tspan x="402.3">1978</tspan><tspan x="596.2">1</tspan><tspan x="783">3</tspan><tspan x="803.5">12</tspan><tspan x="974.5">5</tspan><tspan x="1018.5">1</tspan><tspan x="1144">1</tspan><tspan x="1164.5">3</tspan><tspan x="1185.5">5</tspan><tspan x="1227">4</tspan></text>
<text class="g" y="5"><tspan x="450.8">5</tspan><tspan x="700.8">1</tspan><tspan x="889">1</tspan><tspan x="909.5">2</tspan><tspan x="1060.5">1</tspan><tspan x="1081.5">3</tspan><tspan x="1102.5">12</tspan></text>
<rect class="R" x="244" y="-8.5" width="18.5" height="17.5"/><rect class="B" x="482.5" y="-8.5" width="20" height="17.5"/><rect class="R" x="544.3" y="-8.5" width="19.7" height="17.5"/><rect class="B" x="649.3" y="-8.5" width="19.7" height="17.5"/><rect class="R" x="753" y="-8.5" width="19" height="17.5"/><rect class="B" x="858" y="-8.5" width="20" height="17.5"/><rect class="R" x="988" y="-8.5" width="19" height="17.5"/><rect class="B" x="1114" y="-8.5" width="19" height="17.5"/><rect class="R" x="1197" y="-8.5" width="19" height="17.5"/>
<text class="w" y="5"><tspan x="253">3</tspan><tspan x="492.5">小</tspan><tspan x="554.2">奇</tspan><tspan x="659.2">质</tspan><tspan x="762.5">0</tspan><tspan x="868">升</tspan><tspan x="997.5">中</tspan><tspan x="1123.5">3</tspan><tspan x="1206.5">3</tspan></text>
</g>
<g transform="translate(0,277.8)">
<text class="l" y="5"><tspan x="35.5">2025175</tspan><tspan x="92">3,7,3</tspan><tspan x="136" class="r">6</tspan><tspan x="147.5">1</tspan><tspan x="159" class="r">6</tspan></text>
<text class="y" y="5"><tspan x="192.2">2</tspan><tspan x="232.5">13</tspan><tspan x="253">1</tspan><tspan x="274">5</tspan><tspan x="297.5">19</tspan><tspan x="323">18</tspan><tspan x="348.3">6</tspan><tspan x="373.3">169</tspan><tspan x="402.3">1979</tspan><tspan x="596.2">2</tspan><tspan x="762.5">1</tspan><tspan x="803.5">13</tspan><tspan x="974.5">6</tspan><tspan x="997.5">1</tspan><tspan x="1144">2</tspan><tspan x="1185.5">6</tspan><tspan x="1206.5">1</tspan><tspan x="1227">5</tspan></text>
<text class="g" y="5"><tspan x="450.8">6</tspan><tspan x="700.8">2</tspan><tspan x="868">1</tspan><tspan x="889">2</tspan><tspan x="1060.5">2</tspan><tspan x="1102.5">13</tspan><tspan x="1123.5">1</tspan></text>
<rect class="T" x="203" y="-8.5" width="18.5" height="17.5"/><rect class="B" x="482.5" y="-8.5" width="20" height="17.5"/><rect class="R" x="544.3" y="-8.5" width="19.7" height="17.5"/><rect class="B" x="649.3" y="-8.5" width="19.7" height="17.5"/><rect class="R" x="774" y="-8.5" width="18" height="17.5"/><rect class="B" x="900" y="-8.5" width="19" height="17.5"/><rect class="R" x="1009" y="-8.5" width="19" height="17.5"/><rect class="B" x="1072" y="-8.5" width="19" height="17.5"/><rect class="R" x="1155" y="-8.5" width="19" height="17.5"/>
<text class="w" y="5"><tspan x="212">1</tspan><tspan x="492.5">小</tspan><tspan x="554.2">奇</tspan><tspan x="659.2">质</tspan><tspan x="783">1</tspan><tspan x="909.5">降</tspan><tspan x="1018.5">小</tspan><tspan x="1081.5">1</tspan><tspan x="1164.5">1</tspan></text>
</g>
<g transform="translate(0,297.3)">
<text class="l" y="5"><tspan x="35.5">2025176</tspan><tspan x="92">4,6,2</tspan><tspan x="136">1</tspan><tspan x="147.5" class="r">2</tspan><tspan x="159" class="r">2</tspan></text>
<text class="y" y="5"><tspan x="192.2">3</tspan><tspan x="232.5">14</tspan><tspan x="253">2</tspan><tspan x="274">6</tspan><tspan x="297.5">20</tspan><tspan x="323">19</tspan><tspan x="348.3">7</tspan><tspan x="373.3">170</tspan><tspan x="402.3">1980</tspan><tspan x="596.2">3</tspan><tspan x="762.5">2</tspan><tspan x="803.5">14</tspan><tspan x="974.5">7</tspan><tspan x="997.5">2</tspan><tspan x="1144">3</tspan><tspan x="1185.5">7</tspan><tspan x="1206.5">2</tspan><tspan x="1227">6</tspan></text>
<text class="g" y="5"><tspan x="450.8">7</tspan><tspan x="700.8">3</tspan><tspan x="868">2</tspan><tspan x="909.5">1</tspan><tspan x="1060.5">3</tspan><tspan x="1102.5">14</tspan><tspan x="1123.5">2</tspan></text>
<rect class="T" x="203" y="-8.5" width="18.5" height="17.5"/><rect class="B" x="482.5" y="-8.5" width="20" height="17.5"/><rect class="R" x="544.3" y="-8.5" width="19.7" height="17.5"/><rect class="B" x="649.3" y="-8.5" width="19.7" height="17.5"/><rect class="R" x="774" y="-8.5" width="18" height="17.5"/><rect class="B" x="880" y="-8.5" width="18" height="17.5"/><rect class="R" x="1009" y="-8.5" width="19" height="17.5"/><rect class="B" x="1072" y="-8.5" width="19" height="17.5"/><rect class="R" x="1155" y="-8.5" width="19" height="17.5"/>
<text class="w" y="5"><tspan x="212">1</tspan><tspan x="492.5">小</tspan><tspan x="554.2">奇</tspan><tspan x="659.2">质</tspan><tspan x="783">1</tspan><tspan x="889">平</tspan><tspan x="1018.5">小</tspan><tspan x="1081.5">1</tspan><tspan x="1164.5">1</tspan></text>
</g>
<g transform="translate(0,316.9)">
<text class="l" y="5"><tspan x="35.5">2025177</tspan><tspan x="92">6,3,3</tspan><tspan x="136">4</tspan><tspan x="147.5">9</tspan><tspan x="159">7</tspan></text>
<text class="y" y="5"><tspan x="192.2">4</tspan><tspan x="212">1</tspan><tspan x="232.5">15</tspan><tspan x="253">3</tspan><tspan x="297.5">21</tspan><tspan x="323">20</tspan><tspan x="348.3">8</tspan><tspan x="373.3">171</tspan><tspan x="402.3">1981</tspan><tspan x="554.2">1</tspan><tspan x="762.5">3</tspan><tspan x="803.5">15</tspan><tspan x="974.5">8</tspan><tspan x="1018.5">1</tspan><tspan x="1144">4</tspan><tspan x="1164.5">1</tspan><tspan x="1185.5">8</tspan><tspan x="1206.5">3</tspan></text>
<text class="g" y="5"><tspan x="450.8">8</tspan><tspan x="659.2">1</tspan><tspan x="889">1</tspan><tspan x="909.5">2</tspan><tspan x="1081.5">1</tspan><tspan x="1102.5">15</tspan><tspan x="1123.5">3</tspan></text>
<rect class="R" x="264.5" y="-8.5" width="19" height="17.5"/><rect class="B" x="482.5" y="-8.5" width="20" height="17.5"/><rect class="R" x="586.7" y="-8.5" width="19" height="17.5"/><rect class="B" x="691" y="-8.5" width="19.7" height="17.5"/><rect class="R" x="774" y="-8.5" width="18" height="17.5"/><rect class="B" x="858" y="-8.5" width="20" height="17.5"/><rect class="R" x="988" y="-8.5" width="19" height="17.5"/><rect class="B" x="1051" y="-8.5" width="19" height="17.5"/><rect class="R" x="1218" y="-8.5" width="18" height="17.5"/>
<text class="w" y="5"><tspan x="274">4</tspan><tspan x="492.5">小</tspan><tspan x="596.2">偶</tspan><tspan x="700.8">合</tspan><tspan x="783">1</tspan><tspan x="868">升</tspan><tspan x="997.5">中</tspan><tspan x="1060.5">0</tspan><tspan x="1227">4</tspan></text>
</g>
<g transform="translate(0,336.4)">
<text class="l" y="5"><tspan x="35.5">2025178</tspan><tspan x="92">7,4,8</tspan><tspan x="136">7</tspan><tspan x="147.5">2</tspan><tspan x="159">8</tspan></text>
<text class="y" y="5"><tspan x="192.2">5</tspan><tspan x="212">2</tspan><tspan x="253">4</tspan><tspan x="274">1</tspan><tspan x="297.5">22</tspan><tspan x="323">21</tspan><tspan x="348.3">9</tspan><tspan x="373.3">172</tspan><tspan x="402.3">1982</tspan><tspan x="554.2">2</tspan><tspan x="762.5">4</tspan><tspan x="783">1</tspan><tspan x="974.5">9</tspan><tspan x="997.5">1</tspan><tspan x="1144">5</tspan><tspan x="1164.5">2</tspan><tspan x="1206.5">4</tspan><tspan x="1227">1</tspan></text>
<text class="g" y="5"><tspan x="450.8">9</tspan><tspan x="700.8">1</tspan><tspan x="868">1</tspan><tspan x="889">2</tspan><tspan x="1060.5">1</tspan><tspan x="1081.5">2</tspan><tspan x="1123.5">4</tspan></text>
<rect class="R" x="223.5" y="-8.5" width="18.5" height="17.5"/><rect class="B" x="482.5" y="-8.5" width="20" height="17.5"/><rect class="R" x="586.7" y="-8.5" width="19" height="17.5"/><rect class="B" x="649.3" y="-8.5" width="19.7" height="17.5"/><rect class="R" x="794" y="-8.5" width="19" height="17.5"/><rect class="B" x="900" y="-8.5" width="19" height="17.5"/><rect class="R" x="1009" y="-8.5" width="19" height="17.5"/><rect class="B" x="1093" y="-8.5" width="19" height="17.5"/><rect class="R" x="1176" y="-8.5" width="19" height="17.5"/>
<text class="w" y="5"><tspan x="232.5">2</tspan><tspan x="492.5">小</tspan><tspan x="596.2">偶</tspan><tspan x="659.2">质</tspan><tspan x="803.5">2</tspan><tspan x="909.5">降</tspan><tspan x="1018.5">小</tspan><tspan x="1102.5">2</tspan><tspan x="1185.5">2</tspan></text>
</g>
<g transform="translate(0,356)">
<text class="l" y="5"><tspan x="35.5">2025179</tspan><tspan x="92">0,8,7</tspan><tspan x="136">2</tspan><tspan x="147.5">8</tspan><tspan x="159">0</tspan></text>
<text class="y" y="5"><tspan x="212">3</tspan><tspan x="232.5">1</tspan><tspan x="253">5</tspan><tspan x="274">2</tspan><tspan x="297.5">23</tspan><tspan x="323">22</tspan><tspan x="348.3">10</tspan><tspan x="373.3">173</tspan><tspan x="402.3">1983</tspan><tspan x="554.2">3</tspan><tspan x="783">2</tspan><tspan x="803.5">1</tspan><tspan x="974.5">10</tspan><tspan x="997.5">2</tspan><tspan x="1164.5">3</tspan><tspan x="1185.5">1</tspan><tspan x="1206.5">5</tspan><tspan x="1227">2</tspan></text>
<text class="g" y="5"><tspan x="450.8">10</tspan><tspan x="659.2">1</tspan><tspan x="868">2</tspan><tspan x="889">3</tspan><tspan x="1081.5">3</tspan><tspan x="1102.5">1</tspan><tspan x="1123.5">5</tspan></text>
<rect class="T" x="183" y="-8.5" width="18" height="17.5"/><rect class="B" x="482.5" y="-8.5" width="20" height="17.5"/><rect class="R" x="586.7" y="-8.5" width="19" height="17.5"/><rect class="B" x="691" y="-8.5" width="19.7" height="17.5"/><rect class="R" x="753" y="-8.5" width="19" height="17.5"/><rect class="B" x="900" y="-8.5" width="19" height="17.5"/><rect class="R" x="1009" y="-8.5" width="19" height="17.5"/><rect class="B" x="1051" y="-8.5" width="19" height="17.5"/><rect class="R" x="1135" y="-8.5" width="18" height="17.5"/>
<text class="w" y="5"><tspan x="192.2">0</tspan><tspan x="492.5">小</tspan><tspan x="596.2">偶</tspan><tspan x="700.8">合</tspan><tspan x="762.5">0</tspan><tspan x="909.5">降</tspan><tspan x="1018.5">小</tspan><tspan x="1060.5">0</tspan><tspan x="1144">0</tspan></text>
</g>
<g transform="translate(0,375.5)">
<text class="l" y="5"><tspan x="35.5">2025180</tspan><tspan x="92">4,5,0</tspan><tspan x="136">2</tspan><tspan x="147.5">6</tspan><tspan x="159">0</tspan></text>
<text class="y" y="5"><tspan x="212">4</tspan><tspan x="232.5">2</tspan><tspan x="253">6</tspan><tspan x="274">3</tspan><tspan x="297.5">24</tspan><tspan x="323">23</tspan><tspan x="348.3">11</tspan><tspan x="373.3">174</tspan><tspan x="402.3">1984</tspan><tspan x="554.2">4</tspan><tspan x="783">3</tspan><tspan x="803.5">2</tspan><tspan x="974.5">11</tspan><tspan x="997.5">3</tspan><tspan x="1164.5">4</tspan><tspan x="1185.5">2</tspan><tspan x="1206.5">6</tspan><tspan x="1227">3</tspan></text>
<text class="g" y="5"><tspan x="450.8">11</tspan><tspan x="659.2">2</tspan><tspan x="868">3</tspan><tspan x="909.5">1</tspan><tspan x="1081.5">4</tspan><tspan x="1102.5">2</tspan><tspan x="1123.5">6</tspan></text>
<rect class="T" x="183" y="-8.5" width="18" height="17.5"/><rect class="B" x="482.5" y="-8.5" width="20" height="17.5"/><rect class="R" x="586.7" y="-8.5" width="19" height="17.5"/><rect class="B" x="691" y="-8.5" width="19.7" height="17.5"/><rect class="R" x="753" y="-8.5" width="19" height="17.5"/><rect class="B" x="880" y="-8.5" width="18" height="17.5"/><rect class="R" x="1009" y="-8.5" width="19" height="17.5"/><rect class="B" x="1051" y="-8.5" width="19" height="17.5"/><rect class="R" x="1135" y="-8.5" width="18" height="17.5"/>
<text class="w" y="5"><tspan x="192.2">0</tspan><tspan x="492.5">小</tspan><tspan x="596.2">偶</tspan><tspan x="700.8">合</tspan><tspan x="762.5">0</tspan><tspan x="889">平</tspan><tspan x="1018.5">小</tspan><tspan x="1060.5">0</tspan><tspan x="1144">0</tspan></text>
</g>
<g transform="translate(0,395.1)">
<text class="l" y="5"><tspan x="35.5">2025181</tspan><tspan x="92">4,0,0</tspan><tspan x="136" class="r">8</tspan><tspan x="147.5" class="r">8</tspan><tspan x="159">6</tspan></text>
<text class="y" y="5"><tspan x="192.2">1</tspan><tspan x="212">5</tspan><tspan x="232.5">3</tspan><tspan x="253">7</tspan><tspan x="274">4</tspan><tspan x="297.5">25</tspan><tspan x="348.3">12</tspan><tspan x="373.3">175</tspan><tspan x="402.3">1985</tspan><tspan x="554.2">5</tspan><tspan x="783">4</tspan><tspan x="803.5">3</tspan><tspan x="974.5">12</tspan><tspan x="1018.5">1</tspan><tspan x="1144">1</tspan><tspan x="1185.5">3</tspan><tspan x="1206.5">7</tspan><tspan x="1227">4</tspan></text>
<text class="g" y="5"><tspan x="492.5">1</tspan><tspan x="659.2">3</tspan><tspan x="889">1</tspan><tspan x="909.5">2</tspan><tspan x="1060.5">1</tspan><tspan x="1081.5">5</tspan><tspan x="1123.5">7</tspan></text>
<rect class="R" x="311" y="-8.5" width="24" height="17.5"/><rect class="B" x="441.5" y="-8.5" width="19" height="17.5"/><rect class="R" x="586.7" y="-8.5" width="19" height="17.5"/><rect class="B" x="691" y="-8.5" width="19.7" height="17.5"/><rect class="R" x="753" y="-8.5" width="19" height="17.5"/><rect class="B" x="858" y="-8.5" width="20" height="17.5"/><rect class="R" x="988" y="-8.5" width="19" height="17.5"/><rect class="B" x="1093" y="-8.5" width="19" height="17.5"/><rect class="R" x="1155" y="-8.5" width="19" height="17.5"/>
<text class="w" y="5"><tspan x="323">6</tspan><tspan x="450.8">大</tspan><tspan x="596.2">偶</tspan><tspan x="700.8">合</tspan><tspan x="762.5">0</tspan><tspan x="868">升</tspan><tspan x="997.5">中</tspan><tspan x="1102.5">2</tspan><tspan x="1164.5">1</tspan></text>
</g>
<g transform="translate(0,414.6)">
<text class="l" y="5"><tspan x="35.5">2025182</tspan><tspan x="92">9,1,0</tspan><tspan x="136">7</tspan><tspan x="147.5">0</tspan><tspan x="159">8</tspan></text>
<text class="y" y="5"><tspan x="212">6</tspan><tspan x="232.5">4</tspan><tspan x="253">8</tspan><tspan x="274">5</tspan><tspan x="297.5">26</tspan><tspan x="323">1</tspan><tspan x="348.3">13</tspan><tspan x="373.3">176</tspan><tspan x="402.3">1986</tspan><tspan x="554.2">6</tspan><tspan x="783">5</tspan><tspan x="803.5">4</tspan><tspan x="974.5">13</tspan><tspan x="997.5">1</tspan><tspan x="1164.5">1</tspan><tspan x="1185.5">4</tspan><tspan x="1206.5">8</tspan><tspan x="1227">5</tspan></text>
<text class="g" y="5"><tspan x="450.8">1</tspan><tspan x="659.2">4</tspan><tspan x="868">1</tspan><tspan x="889">2</tspan><tspan x="1081.5">6</tspan><tspan x="1102.5">1</tspan><tspan x="1123.5">8</tspan></text>
<rect class="R" x="183" y="-8.5" width="18" height="17.5"/><rect class="B" x="482.5" y="-8.5" width="20" height="17.5"/><rect class="R" x="586.7" y="-8.5" width="19" height="17.5"/><rect class="B" x="691" y="-8.5" width="19.7" height="17.5"/><rect class="R" x="753" y="-8.5" width="19" height="17.5"/><rect class="B" x="900" y="-8.5" width="19" height="17.5"/><rect class="R" x="1009" y="-8.5" width="19" height="17.5"/><rect class="B" x="1051" y="-8.5" width="19" height="17.5"/><rect class="R" x="1135" y="-8.5" width="18" height="17.5"/>
<text class="w" y="5"><tspan x="192.2">0</tspan><tspan x="492.5">小</tspan><tspan x="596.2">偶</tspan><tspan x="700.8">合</tspan><tspan x="762.5">0</tspan><tspan x="909.5">降</tspan><tspan x="1018.5">小</tspan><tspan x="1060.5">0</tspan><tspan x="1144">0</tspan></text>
</g>
<g transform="translate(0,434.2)">
<text class="l" y="5"><tspan x="35.5">2025183</tspan><tspan x="92">6,9,4</tspan><tspan x="136">7</tspan><tspan x="147.5" class="r">4</tspan><tspan x="159" class="r">4</tspan></text>
<text class="y" y="5"><tspan x="192.2">1</tspan><tspan x="212">7</tspan><tspan x="232.5">5</tspan><tspan x="253">9</tspan><tspan x="297.5">27</tspan><tspan x="323">2</tspan><tspan x="348.3">14</tspan><tspan x="373.3">177</tspan><tspan x="402.3">1987</tspan><tspan x="554.2">7</tspan><tspan x="762.5">1</tspan><tspan x="803.5">5</tspan><tspan x="974.5">14</tspan><tspan x="1018.5">1</tspan><tspan x="1144">1</tspan><tspan x="1164.5">2</tspan><tspan x="1185.5">5</tspan><tspan x="1206.5">9</tspan></text>
<text class="g" y="5"><tspan x="450.8">2</tspan><tspan x="659.2">5</tspan><tspan x="889">3</tspan><tspan x="909.5">1</tspan><tspan x="1081.5">7</tspan><tspan x="1102.5">2</tspan><tspan x="1123.5">9</tspan></text>
<rect class="R" x="264.5" y="-8.5" width="19" height="17.5"/><rect class="B" x="482.5" y="-8.5" width="20" height="17.5"/><rect class="R" x="586.7" y="-8.5" width="19" height="17.5"/><rect class="B" x="691" y="-8.5" width="19.7" height="17.5"/><rect class="R" x="774" y="-8.5" width="18" height="17.5"/><rect class="B" x="858" y="-8.5" width="20" height="17.5"/><rect class="R" x="988" y="-8.5" width="19" height="17.5"/><rect class="B" x="1051" y="-8.5" width="19" height="17.5"/><rect class="R" x="1218" y="-8.5" width="18" height="17.5"/>
<text class="w" y="5"><tspan x="274">4</tspan><tspan x="492.5">小</tspan><tspan x="596.2">偶</tspan><tspan x="700.8">合</tspan><tspan x="783">1</tspan><tspan x="868">升</tspan><tspan x="997.5">中</tspan><tspan x="1060.5">0</tspan><tspan x="1227">4</tspan></text>
</g>
<g transform="translate(0,453.7)">
<text class="l" y="5"><tspan x="35.5">2025184</tspan><tspan x="92">6,3,3</tspan><tspan x="136">7</tspan><tspan x="147.5" class="r">9</tspan><tspan x="159" class="r">9</tspan></text>
<text class="y" y="5"><tspan x="192.2">2</tspan><tspan x="212">8</tspan><tspan x="232.5">6</tspan><tspan x="253">10</tspan><tspan x="274">1</tspan><tspan x="297.5">28</tspan><tspan x="323">3</tspan><tspan x="373.3">178</tspan><tspan x="402.3">1988</tspan><tspan x="596.2">1</tspan><tspan x="762.5">2</tspan><tspan x="803.5">6</tspan><tspan x="997.5">1</tspan><tspan x="1018.5">2</tspan><tspan x="1144">2</tspan><tspan x="1164.5">3</tspan><tspan x="1206.5">10</tspan><tspan x="1227">1</tspan></text>
<text class="g" y="5"><tspan x="492.5">1</tspan><tspan x="700.8">1</tspan><tspan x="889">4</tspan><tspan x="909.5">2</tspan><tspan x="1060.5">1</tspan><tspan x="1081.5">8</tspan><tspan x="1102.5">3</tspan></text>
<rect class="R" x="337" y="-8.5" width="22.5" height="17.5"/><rect class="B" x="441.5" y="-8.5" width="19" height="17.5"/><rect class="R" x="544.3" y="-8.5" width="19.7" height="17.5"/><rect class="B" x="649.3" y="-8.5" width="19.7" height="17.5"/><rect class="R" x="774" y="-8.5" width="18" height="17.5"/><rect class="B" x="858" y="-8.5" width="20" height="17.5"/><rect class="R" x="963" y="-8.5" width="23" height="17.5"/><rect class="B" x="1114" y="-8.5" width="19" height="17.5"/><rect class="R" x="1176" y="-8.5" width="19" height="17.5"/>
<text class="w" y="5"><tspan x="348.3">7</tspan><tspan x="450.8">大</tspan><tspan x="554.2">奇</tspan><tspan x="659.2">质</tspan><tspan x="783">1</tspan><tspan x="868">升</tspan><tspan x="974.5">大</tspan><tspan x="1123.5">3</tspan><tspan x="1185.5">2</tspan></text>
</g>
<g transform="translate(0,473.3)">
<text class="l" y="5"><tspan x="35.5">2025185</tspan><tspan x="92">0,5,5</tspan><tspan x="136">1</tspan><tspan x="147.5">6</tspan><tspan x="159">4</tspan></text>
<text class="y" y="5"><tspan x="192.2">3</tspan><tspan x="232.5">7</tspan><tspan x="253">11</tspan><tspan x="274">2</tspan><tspan x="297.5">29</tspan><tspan x="323">4</tspan><tspan x="348.3">1</tspan><tspan x="373.3">179</tspan><tspan x="402.3">1989</tspan><tspan x="596.2">2</tspan><tspan x="762.5">3</tspan><tspan x="803.5">7</tspan><tspan x="974.5">1</tspan><tspan x="997.5">2</tspan><tspan x="1144">3</tspan><tspan x="1185.5">1</tspan><tspan x="1206.5">11</tspan><tspan x="1227">2</tspan></text>
<text class="g" y="5"><tspan x="450.8">1</tspan><tspan x="700.8">2</tspan><tspan x="868">1</tspan><tspan x="889">5</tspan><tspan x="1060.5">2</tspan><tspan x="1102.5">4</tspan><tspan x="1123.5">1</tspan></text>
<rect class="G" x="203" y="-8.5" width="18.5" height="17.5"/><rect class="B" x="482.5" y="-8.5" width="20" height="17.5"/><rect class="R" x="544.3" y="-8.5" width="19.7" height="17.5"/><rect class="B" x="649.3" y="-8.5" width="19.7" height="17.5"/><rect class="R" x="774" y="-8.5" width="18" height="17.5"/><rect class="B" x="900" y="-8.5" width="19" height="17.5"/><rect class="R" x="1009" y="-8.5" width="19" height="17.5"/><rect class="B" x="1072" y="-8.5" width="19" height="17.5"/><rect class="R" x="1155" y="-8.5" width="19" height="17.5"/>
<text class="w" y="5"><tspan x="212">1</tspan><tspan x="492.5">小</tspan><tspan x="554.2">奇</tspan><tspan x="659.2">质</tspan><tspan x="783">1</tspan><tspan x="909.5">降</tspan><tspan x="1018.5">小</tspan><tspan x="1081.5">1</tspan><tspan x="1164.5">1</tspan></text>
</g>
<g transform="translate(0,492.8)">
<text class="l" y="5"><tspan x="35.5">2025186</tspan><tspan x="92">1,3,7</tspan><tspan x="136" class="r">2</tspan><tspan x="147.5" class="r">2</tspan><tspan x="159">7</tspan></text>
<text class="y" y="5"><tspan x="192.2">4</tspan><tspan x="212">1</tspan><tspan x="253">12</tspan><tspan x="274">3</tspan><tspan x="297.5">30</tspan><tspan x="323">5</tspan><tspan x="348.3">2</tspan><tspan x="373.3">180</tspan><tspan x="402.3">1990</tspan><tspan x="554.2">1</tspan><tspan x="762.5">4</tspan><tspan x="783">1</tspan><tspan x="974.5">2</tspan><tspan x="997.5">3</tspan><tspan x="1144">4</tspan><tspan x="1164.5">1</tspan><tspan x="1206.5">12</tspan><tspan x="1227">3</tspan></text>
<text class="g" y="5"><tspan x="450.8">2</tspan><tspan x="700.8">3</tspan><tspan x="889">6</tspan><tspan x="909.5">1</tspan><tspan x="1060.5">3</tspan><tspan x="1081.5">1</tspan><tspan x="1123.5">2</tspan></text>
<rect class="D" x="223.5" y="-8.5" width="18.5" height="17.5"/><rect class="B" x="482.5" y="-8.5" width="20" height="17.5"/><rect class="R" x="586.7" y="-8.5" width="19" height="17.5"/><rect class="B" x="649.3" y="-8.5" width="19.7" height="17.5"/><rect class="R" x="794" y="-8.5" width="19" height="17.5"/><rect class="B" x="858" y="-8.5" width="20" height="17.5"/><rect class="R" x="1009" y="-8.5" width="19" height="17.5"/><rect class="B" x="1093" y="-8.5" width="19" height="17.5"/><rect class="R" x="1176" y="-8.5" width="19" height="17.5"/>
<text class="w" y="5"><tspan x="232.5">2</tspan><tspan x="492.5">小</tspan><tspan x="596.2">偶</tspan><tspan x="659.2">质</tspan><tspan x="803.5">2</tspan><tspan x="868">升</tspan><tspan x="1018.5">小</tspan><tspan x="1102.5">2</tspan><tspan x="1185.5">2</tspan></text>
</g>
<g transform="translate(0,512.4)">
<text class="l" y="5"><tspan x="35.5">2025187</tspan><tspan x="92">0,0,5</tspan><tspan x="136">7</tspan><tspan x="147.5">6</tspan><tspan x="159">1</tspan></text>
<text class="y" y="5"><tspan x="192.2">5</tspan><tspan x="232.5">1</tspan><tspan x="253">13</tspan><tspan x="274">4</tspan><tspan x="297.5">31</tspan><tspan x="323">6</tspan><tspan x="348.3">3</tspan><tspan x="373.3">181</tspan><tspan x="402.3">1991</tspan><tspan x="596.2">1</tspan><tspan x="762.5">5</tspan><tspan x="803.5">1</tspan><tspan x="974.5">3</tspan><tspan x="997.5">4</tspan><tspan x="1144">5</tspan><tspan x="1185.5">1</tspan><tspan x="1206.5">13</tspan><tspan x="1227">4</tspan></text>
<text class="g" y="5"><tspan x="450.8">3</tspan><tspan x="700.8">4</tspan><tspan x="868">1</tspan><tspan x="889">7</tspan><tspan x="1060.5">4</tspan><tspan x="1102.5">1</tspan><tspan x="1123.5">3</tspan></text>
<rect class="D" x="203" y="-8.5" width="18.5" height="17.5"/><rect class="B" x="482.5" y="-8.5" width="20" height="17.5"/><rect class="R" x="544.3" y="-8.5" width="19.7" height="17.5"/><rect class="B" x="649.3" y="-8.5" width="19.7" height="17.5"/><rect class="R" x="774" y="-8.5" width="18" height="17.5"/><rect class="B" x="900" y="-8.5" width="19" height="17.5"/><rect class="R" x="1009" y="-8.5" width="19" height="17.5"/><rect class="B" x="1072" y="-8.5" width="19" height="17.5"/><rect class="R" x="1155" y="-8.5" width="19" height="17.5"/>
<text class="w" y="5"><tspan x="212">1</tspan><tspan x="492.5">小</tspan><tspan x="554.2">奇</tspan><tspan x="659.2">质</tspan><tspan x="783">1</tspan><tspan x="909.5">降</tspan><tspan x="1018.5">小</tspan><tspan x="1081.5">1</tspan><tspan x="1164.5">1</tspan></text>
</g>
<g transform="translate(0,531.9)">
<text class="l" y="5"><tspan x="35.5">2025188</tspan><tspan x="92">0,6,0</tspan><tspan x="136">0</tspan><tspan x="147.5">1</tspan><tspan x="159">8</tspan></text>
<text class="y" y="5"><tspan x="212">1</tspan><tspan x="232.5">2</tspan><tspan x="253">14</tspan><tspan x="274">5</tspan><tspan x="297.5">32</tspan><tspan x="323">7</tspan><tspan x="348.3">4</tspan><tspan x="373.3">182</tspan><tspan x="402.3">1992</tspan><tspan x="554.2">1</tspan><tspan x="783">1</tspan><tspan x="803.5">2</tspan><tspan x="974.5">4</tspan><tspan x="997.5">5</tspan><tspan x="1164.5">1</tspan><tspan x="1185.5">2</tspan><tspan x="1206.5">14</tspan><tspan x="1227">5</tspan></text>
<text class="g" y="5"><tspan x="450.8">4</tspan><tspan x="659.2">1</tspan><tspan x="868">2</tspan><tspan x="889">8</tspan><tspan x="1081.5">1</tspan><tspan x="1102.5">2</tspan><tspan x="1123.5">4</tspan></text>
<rect class="D" x="183" y="-8.5" width="18" height="17.5"/><rect class="B" x="482.5" y="-8.5" width="20" height="17.5"/><rect class="R" x="586.7" y="-8.5" width="19" height="17.5"/><rect class="B" x="691" y="-8.5" width="19.7" height="17.5"/><rect class="R" x="753" y="-8.5" width="19" height="17.5"/><rect class="B" x="900" y="-8.5" width="19" height="17.5"/><rect class="R" x="1009" y="-8.5" width="19" height="17.5"/><rect class="B" x="1051" y="-8.5" width="19" height="17.5"/><rect class="R" x="1135" y="-8.5" width="18" height="17.5"/>
<text class="w" y="5"><tspan x="192.2">0</tspan><tspan x="492.5">小</tspan><tspan x="596.2">偶</tspan><tspan x="700.8">合</tspan><tspan x="762.5">0</tspan><tspan x="909.5">降</tspan><tspan x="1018.5">小</tspan><tspan x="1060.5">0</tspan><tspan x="1144">0</tspan></text>
</g>
<g transform="translate(0,551.5)">
<text class="l" y="5"><tspan x="35.5">2025189</tspan><tspan x="92">3,2,5</tspan><tspan x="136">9</tspan><tspan x="147.5">0</tspan><tspan x="159">7</tspan></text>
<text class="y" y="5"><tspan x="212">2</tspan><tspan x="232.5">3</tspan><tspan x="253">15</tspan><tspan x="274">6</tspan><tspan x="297.5">33</tspan><tspan x="323">8</tspan><tspan x="348.3">5</tspan><tspan x="373.3">183</tspan><tspan x="402.3">1993</tspan><tspan x="554.2">2</tspan><tspan x="783">2</tspan><tspan x="803.5">3</tspan><tspan x="974.5">5</tspan><tspan x="997.5">6</tspan><tspan x="1164.5">2</tspan><tspan x="1185.5">3</tspan><tspan x="1206.5">15</tspan><tspan x="1227">6</tspan></text>
<text class="g" y="5"><tspan x="450.8">5</tspan><tspan x="659.2">2</tspan><tspan x="868">3</tspan><tspan x="909.5">1</tspan><tspan x="1081.5">2</tspan><tspan x="1102.5">3</tspan><tspan x="1123.5">5</tspan></text>
<rect class="D" x="183" y="-8.5" width="18" height="17.5"/><rect class="B" x="482.5" y="-8.5" width="20" height="17.5"/><rect class="R" x="586.7" y="-8.5" width="19" height="17.5"/><rect class="B" x="691" y="-8.5" width="19.7" height="17.5"/><rect class="R" x="753" y="-8.5" width="19" height="17.5"/><rect class="B" x="880" y="-8.5" width="18" height="17.5"/><rect class="R" x="1009" y="-8.5" width="19" height="17.5"/><rect class="B" x="1051" y="-8.5" width="19" height="17.5"/><rect class="R" x="1135" y="-8.5" width="18" height="17.5"/>
<text class="w" y="5"><tspan x="192.2">0</tspan><tspan x="492.5">小</tspan><tspan x="596.2">偶</tspan><tspan x="700.8">合</tspan><tspan x="762.5">0</tspan><tspan x="889">平</tspan><tspan x="1018.5">小</tspan><tspan x="1060.5">0</tspan><tspan x="1144">0</tspan></text>
</g>
<g transform="translate(0,571)">
<text class="l" y="5"><tspan x="35.5">2025190</tspan><tspan x="92">5,4,6</tspan><tspan x="136">4</tspan><tspan x="147.5">0</tspan><tspan x="159">2</tspan></text>
<text class="y" y="5"><tspan x="212">3</tspan><tspan x="232.5">4</tspan><tspan x="253">16</tspan><tspan x="274">7</tspan><tspan x="297.5">34</tspan><tspan x="323">9</tspan><tspan x="348.3">6</tspan><tspan x="373.3">184</tspan><tspan x="402.3">1994</tspan><tspan x="554.2">3</tspan><tspan x="783">3</tspan><tspan x="803.5">4</tspan><tspan x="974.5">6</tspan><tspan x="997.5">7</tspan><tspan x="1164.5">3</tspan><tspan x="1185.5">4</tspan><tspan x="1206.5">16</tspan><tspan x="1227">7</tspan></text>
<text class="g" y="5"><tspan x="450.8">6</tspan><tspan x="659.2">3</tspan><tspan x="868">4</tspan><tspan x="909.5">2</tspan><tspan x="1081.5">3</tspan><tspan x="1102.5">4</tspan><tspan x="1123.5">6</tspan></text>
<rect class="R" x="183" y="-8.5" width="18" height="17.5"/><rect class="B" x="482.5" y="-8.5" width="20" height="17.5"/><rect class="R" x="586.7" y="-8.5" width="19" height="17.5"/><rect class="B" x="691" y="-8.5" width="19.7" height="17.5"/><rect class="R" x="753" y="-8.5" width="19" height="17.5"/><rect class="B" x="880" y="-8.5" width="18" height="17.5"/><rect class="R" x="1009" y="-8.5" width="19" height="17.5"/><rect class="B" x="1051" y="-8.5" width="19" height="17.5"/><rect class="R" x="1135" y="-8.5" width="18" height="17.5"/>
<text class="w" y="5"><tspan x="192.2">0</tspan><tspan x="492.5">小</tspan><tspan x="596.2">偶</tspan><tspan x="700.8">合</tspan><tspan x="762.5">0</tspan><tspan x="889">平</tspan><tspan x="1018.5">小</tspan><tspan x="1060.5">0</tspan><tspan x="1144">0</tspan></text>
</g>
<g transform="translate(0,590.6)">
<text class="l" y="5"><tspan x="35.5">2025191</tspan><tspan x="92">2,2,9</tspan><tspan x="136" class="r">2</tspan><tspan x="147.5">0</tspan><tspan x="159" class="r">2</tspan></text>
<text class="y" y="5"><tspan x="212">4</tspan><tspan x="232.5">5</tspan><tspan x="253">17</tspan><tspan x="274">8</tspan><tspan x="297.5">35</tspan><tspan x="323">10</tspan><tspan x="348.3">7</tspan><tspan x="373.3">185</tspan><tspan x="402.3">1995</tspan><tspan x="554.2">4</tspan><tspan x="783">4</tspan><tspan x="803.5">5</tspan><tspan x="974.5">7</tspan><tspan x="997.5">8</tspan><tspan x="1164.5">4</tspan><tspan x="1185.5">5</tspan><tspan x="1206.5">17</tspan><tspan x="1227">8</tspan></text>
<text class="g" y="5"><tspan x="450.8">7</tspan><tspan x="659.2">4</tspan><tspan x="868">5</tspan><tspan x="909.5">3</tspan><tspan x="1081.5">4</tspan><tspan x="1102.5">5</tspan><tspan x="1123.5">7</tspan></text>
<rect class="G" x="183" y="-8.5" width="18" height="17.5"/><rect class="B" x="482.5" y="-8.5" width="20" height="17.5"/><rect class="R" x="586.7" y="-8.5" width="19" height="17.5"/><rect class="B" x="691" y="-8.5" width="19.7" height="17.5"/><rect class="R" x="753" y="-8.5" width="19" height="17.5"/><rect class="B" x="880" y="-8.5" width="18" height="17.5"/><rect class="R" x="1009" y="-8.5" width="19" height="17.5"/><rect class="B" x="1051" y="-8.5" width="19" height="17.5"/><rect class="R" x="1135" y="-8.5" width="18" height="17.5"/>
<text class="w" y="5"><tspan x="192.2">0</tspan><tspan x="492.5">小</tspan><tspan x="596.2">偶</tspan><tspan x="700.8">合</tspan><tspan x="762.5">0</tspan><tspan x="889">平</tspan><tspan x="1018.5">小</tspan><tspan x="1060.5">0</tspan><tspan x="1144">0</tspan></text>
</g>
<g transform="translate(0,610.1)">
<text class="l" y="5"><tspan x="35.5">2025192</tspan><tspan x="92">0,5,3</tspan><tspan x="136">6</tspan><tspan x="147.5">9</tspan><tspan x="159">1</tspan></text>
<text class="y" y="5"><tspan x="192.2">1</tspan><tspan x="232.5">6</tspan><tspan x="253">18</tspan><tspan x="274">9</tspan><tspan x="297.5">36</tspan><tspan x="323">11</tspan><tspan x="348.3">8</tspan><tspan x="373.3">186</tspan><tspan x="402.3">1996</tspan><tspan x="596.2">1</tspan><tspan x="762.5">1</tspan><tspan x="803.5">6</tspan><tspan x="974.5">8</tspan><tspan x="997.5">9</tspan><tspan x="1144">1</tspan><tspan x="1185.5">6</tspan><tspan x="1206.5">18</tspan><tspan x="1227">9</tspan></text>
<text class="g" y="5"><tspan x="450.8">8</tspan><tspan x="700.8">1</tspan><tspan x="889">1</tspan><tspan x="909.5">4</tspan><tspan x="1060.5">1</tspan><tspan x="1102.5">6</tspan><tspan x="1123.5">8</tspan></text>
<rect class="G" x="203" y="-8.5" width="18.5" height="17.5"/><rect class="B" x="482.5" y="-8.5" width="20" height="17.5"/><rect class="R" x="544.3" y="-8.5" width="19.7" height="17.5"/><rect class="B" x="649.3" y="-8.5" width="19.7" height="17.5"/><rect class="R" x="774" y="-8.5" width="18" height="17.5"/><rect class="B" x="858" y="-8.5" width="20" height="17.5"/><rect class="R" x="1009" y="-8.5" width="19" height="17.5"/><rect class="B" x="1072" y="-8.5" width="19" height="17.5"/><rect class="R" x="1155" y="-8.5" width="19" height="17.5"/>
<text class="w" y="5"><tspan x="212">1</tspan><tspan x="492.5">小</tspan><tspan x="554.2">奇</tspan><tspan x="659.2">质</tspan><tspan x="783">1</tspan><tspan x="868">升</tspan><tspan x="1018.5">小</tspan><tspan x="1081.5">1</tspan><tspan x="1164.5">1</tspan></text>
</g>
<g transform="translate(0,629.7)">
<text class="l" y="5"><tspan x="35.5">2025193</tspan><tspan x="92">7,8,4</tspan><tspan x="136">8</tspan><tspan x="147.5">7</tspan><tspan x="159">6</tspan></text>
<text class="y" y="5"><tspan x="192.2">2</tspan><tspan x="212">1</tspan><tspan x="232.5">7</tspan><tspan x="253">19</tspan><tspan x="274">10</tspan><tspan x="297.5">37</tspan><tspan x="348.3">9</tspan><tspan x="373.3">187</tspan><tspan x="402.3">1997</tspan><tspan x="554.2">1</tspan><tspan x="783">1</tspan><tspan x="803.5">7</tspan><tspan x="974.5">9</tspan><tspan x="1018.5">1</tspan><tspan x="1144">2</tspan><tspan x="1185.5">7</tspan><tspan x="1206.5">19</tspan><tspan x="1227">10</tspan></text>
<text class="g" y="5"><tspan x="492.5">1</tspan><tspan x="659.2">1</tspan><tspan x="889">2</tspan><tspan x="909.5">5</tspan><tspan x="1060.5">2</tspan><tspan x="1081.5">1</tspan><tspan x="1123.5">9</tspan></text>
<rect class="R" x="311" y="-8.5" width="24" height="17.5"/><rect class="B" x="441.5" y="-8.5" width="19" height="17.5"/><rect class="R" x="586.7" y="-8.5" width="19" height="17.5"/><rect class="B" x="691" y="-8.5" width="19.7" height="17.5"/><rect class="R" x="753" y="-8.5" width="19" height="17.5"/><rect class="B" x="858" y="-8.5" width="20" height="17.5"/><rect class="R" x="988" y="-8.5" width="19" height="17.5"/><rect class="B" x="1093" y="-8.5" width="19" height="17.5"/><rect class="R" x="1155" y="-8.5" width="19" height="17.5"/>
<text class="w" y="5"><tspan x="323">6</tspan><tspan x="450.8">大</tspan><tspan x="596.2">偶</tspan><tspan x="700.8">合</tspan><tspan x="762.5">0</tspan><tspan x="868">升</tspan><tspan x="997.5">中</tspan><tspan x="1102.5">2</tspan><tspan x="1164.5">1</tspan></text>
</g>
<text class="h" x="35.5" y="654">预测1</text>
<!-- red highlight boxes -->
<rect x="573" y="63" width="40" height="590" fill="none" stroke="#e8202a" stroke-width="3"/>
<rect x="688" y="64" width="33" height="590" fill="none" stroke="#e8202a" stroke-width="3"/>
</svg>
</body></html>
